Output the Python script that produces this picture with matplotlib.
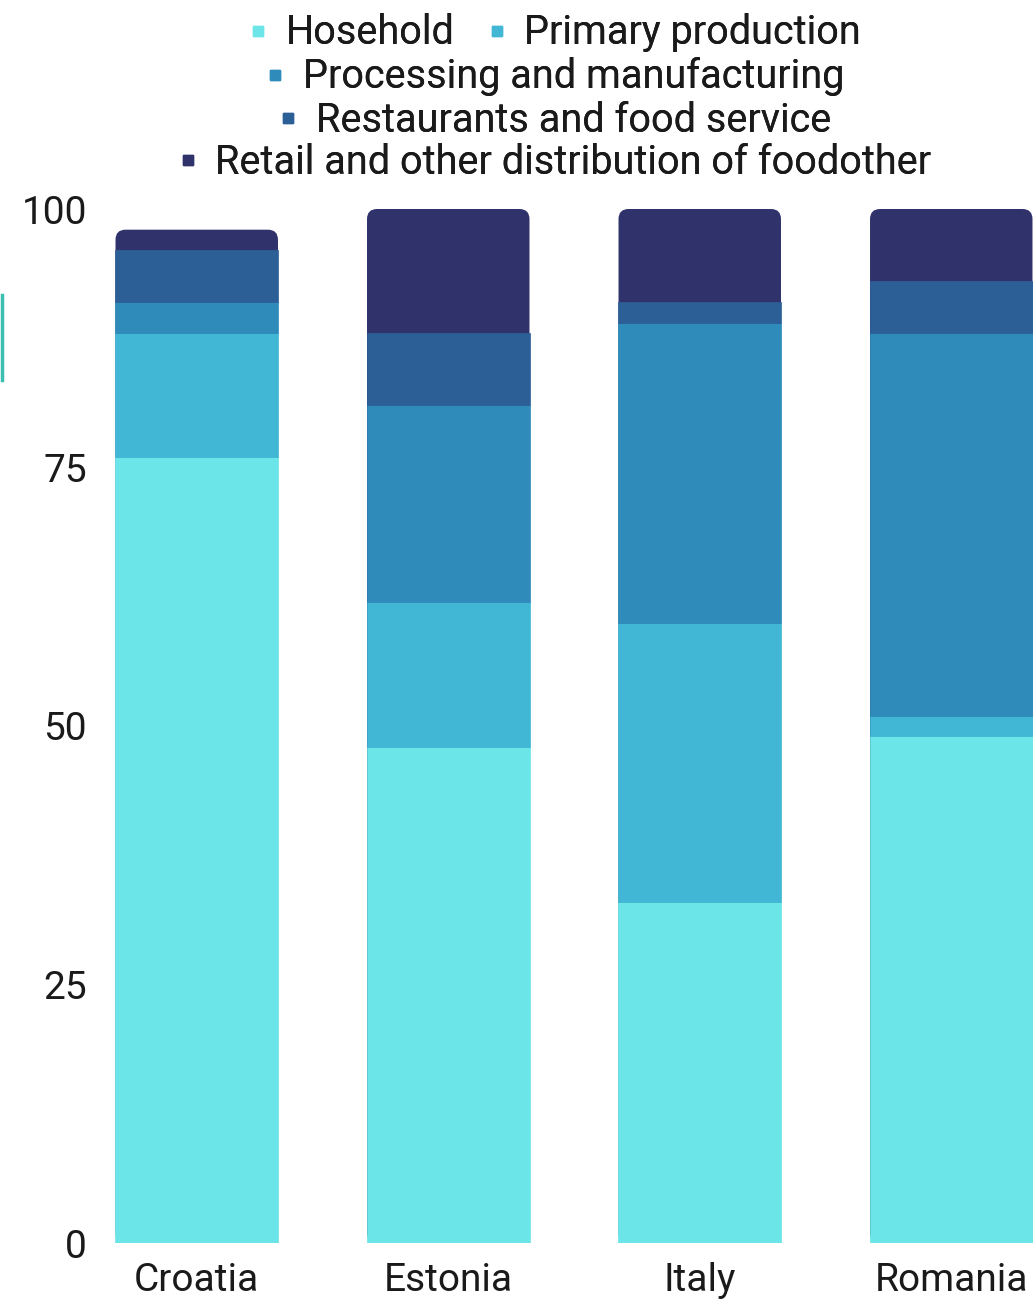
import matplotlib.pyplot as plt
from matplotlib.patches import FancyBboxPatch
from matplotlib.lines import Line2D
import numpy as np

plt.rcParams['font.family'] = ['Roboto', 'DejaVu Sans']

countries = ['Croatia', 'Estonia', 'Italy', 'Romania']
hosehold = [76, 48, 33, 49]
primary = [12, 14, 27, 2]
processing = [3, 19, 29, 37]
restaurants = [5, 7, 2, 5]
retail = [2, 12, 9, 7]

labels = ['Hosehold', 'Primary production', 'Processing and manufacturing',
          'Restaurants and food service', 'Retail and other distribution of foodother']
colors = ['#6ce5e8', '#41b6d5', '#2e8bba', '#2d5f97', '#30336b']
yticks = [0, 25, 50, 75, 100]

fig = plt.figure(figsize=(10.33, 13.01), dpi=100)
ax = fig.add_axes([115 / 1033, 58 / 1301, 1 - 115 / 1033, 1034 / 1301])

x = np.arange(len(countries))
w = 0.65
series = [hosehold, primary, processing, restaurants]
totals = np.sum([hosehold, primary, processing, restaurants, retail], axis=0)

# full bar in top colour with rounded top, lower segments drawn over it
for i in range(len(countries)):
    p = FancyBboxPatch((x[i] - w / 2 + 0.002, 0), w - 0.004, totals[i],
                       boxstyle="round,pad=0,rounding_size=0.04",
                       mutation_aspect=24.3, fc=colors[4], ec='none', zorder=2)
    ax.add_patch(p)

bottom = np.zeros(len(countries))
for s, c in zip(series, colors):
    ax.bar(x, s, w, bottom=bottom, color=c, edgecolor=c, linewidth=0.5, zorder=3)
    bottom += np.array(s)

ax.set_xlim(-0.325, 3.325)
ax.set_ylim(0, 100)
ax.set_yticks(yticks)
ax.set_yticklabels([str(v) for v in yticks])
ax.set_xticks(x)
ax.set_xticklabels(countries)
ax.tick_params(axis='y', length=0, pad=20, labelsize=28, labelcolor='#1a1a1a')
ax.tick_params(axis='x', length=0, pad=14, labelsize=28, labelcolor='#1a1a1a')
for sp in ax.spines.values():
    sp.set_visible(False)

# legend rows, centred
rows = [[0, 1], [2], [3], [4]]
row_y = [33, 77, 120, 162]
for r, yy in zip(rows, row_y):
    hs = [Line2D([], [], ls='none', marker='s', markersize=7, color=colors[k]) for k in r]
    lg = fig.legend(hs, [labels[k] for k in r], loc='center', ncol=len(r),
                    bbox_to_anchor=(0.537, 1 - yy / 1301), frameon=False,
                    fontsize=28.5, handlelength=0.5, handletextpad=0.45,
                    columnspacing=0.8, borderpad=0, labelcolor='#1a1a1a')
    fig.add_artist(lg)

# stray teal mark at the left edge
fig.add_artist(Line2D([1.5 / 1033, 1.5 / 1033], [1 - 295 / 1301, 1 - 380 / 1301],
                      color='#3cbfb0', lw=2.5, transform=fig.transFigure))

fig.savefig('out.png', dpi=100)
